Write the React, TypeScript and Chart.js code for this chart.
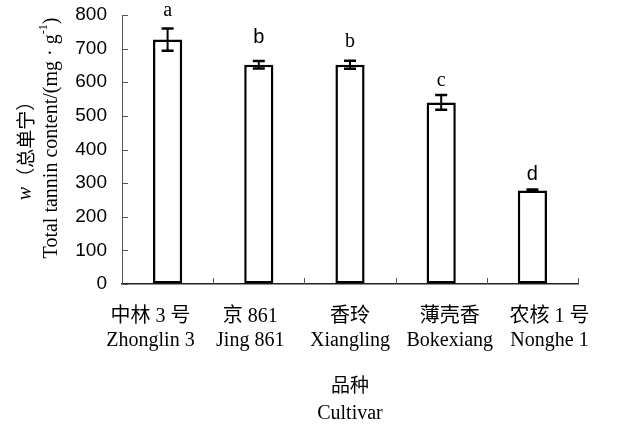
import React, { useEffect, useRef } from "react";
import { Chart, registerables } from "chart.js";

Chart.register(...registerables);

const cultivarsCN = ["中林 3 号", "京 861", "香玲", "薄壳香", "农核 1 号"];
const cultivarsEN = ["Zhonglin 3", "Jing 861", "Xiangling", "Bokexiang", "Nonghe 1"];
const tanninValues = [727, 652, 652, 540, 278];
const tanninErrors = [33, 11, 12, 22, 3];
const sigLetters = ["a", "b", "b", "c", "d"];
const yTicks = [0, 100, 200, 300, 400, 500, 600, 700, 800];

const SERIF = "'Liberation Serif', 'Times New Roman', 'Noto Sans CJK SC', serif";
const SANS = "'Liberation Sans', Arial, sans-serif";
const CJK = "'Noto Sans CJK SC', sans-serif";

const letterFonts = [SERIF, SANS, SERIF, SERIF, SANS];
const letterGaps = [12, 18, 14, 9, 10];

const annotPlugin = {
  id: "annot",
  afterDraw(chart: any) {
    const ctx = chart.ctx as CanvasRenderingContext2D;
    const ys = chart.scales.y;
    const xs = chart.scales.x;
    const area = chart.chartArea;
    ctx.save();
    // inward ticks
    ctx.strokeStyle = "#555";
    ctx.lineWidth = 1;
    yTicks.forEach((v) => {
      const py = Math.round(ys.getPixelForValue(v)) + 0.5;
      ctx.beginPath();
      ctx.moveTo(area.left, py);
      ctx.lineTo(area.left + 6, py);
      ctx.stroke();
    });
    for (let i = 1; i <= cultivarsEN.length; i++) {
      const px = Math.round(xs.getPixelForValue(i - 0.5)) + 0.5;
      ctx.beginPath();
      ctx.moveTo(px, area.bottom);
      ctx.lineTo(px, area.bottom - 6);
      ctx.stroke();
    }
    // error bars and letters
    const meta = chart.getDatasetMeta(0);
    meta.data.forEach((bar: any, i: number) => {
      const cx = bar.x;
      const top = ys.getPixelForValue(tanninValues[i] + tanninErrors[i]);
      const bot = ys.getPixelForValue(tanninValues[i] - tanninErrors[i]);
      ctx.strokeStyle = "#000";
      ctx.lineWidth = 2;
      ctx.beginPath();
      ctx.moveTo(cx, top);
      ctx.lineTo(cx, bot);
      ctx.stroke();
      ctx.lineWidth = 2.5;
      ctx.beginPath();
      ctx.moveTo(cx - 6, top);
      ctx.lineTo(cx + 6, top);
      ctx.moveTo(cx - 6, bot);
      ctx.lineTo(cx + 6, bot);
      ctx.stroke();
      ctx.fillStyle = "#000";
      ctx.font = `20px ${letterFonts[i]}`;
      ctx.textAlign = "center";
      ctx.textBaseline = "alphabetic";
      ctx.fillText(sigLetters[i], cx, top - letterGaps[i]);
    });
    // y title
    ctx.fillStyle = "#000";
    ctx.textBaseline = "middle";
    ctx.textAlign = "left";
    ctx.save();
    ctx.translate(26, 146);
    ctx.rotate(-Math.PI / 2);
    ctx.font = `italic 20px ${SERIF}`;
    const wW = ctx.measureText("w").width;
    ctx.font = `19px ${CJK}`;
    const cW = ctx.measureText("（总单宁）").width;
    let sx = -(wW + cW) / 2;
    ctx.font = `italic 20px ${SERIF}`;
    ctx.fillText("w", sx, 0);
    sx += wW;
    ctx.font = `19px ${CJK}`;
    ctx.fillText("（总单宁）", sx, 0);
    ctx.restore();
    ctx.save();
    ctx.translate(52, 138);
    ctx.rotate(-Math.PI / 2);
    const main = "Total tannin content/(mg · g";
    ctx.font = `20px ${SERIF}`;
    const mW = ctx.measureText(main).width;
    const pW = ctx.measureText(")").width;
    ctx.font = `12px ${SERIF}`;
    const sW = ctx.measureText("-1").width;
    let tx = -(mW + sW + pW) / 2;
    ctx.font = `20px ${SERIF}`;
    ctx.fillText(main, tx, 0);
    tx += mW;
    ctx.font = `12px ${SERIF}`;
    ctx.fillText("-1", tx, -8);
    tx += sW;
    ctx.font = `20px ${SERIF}`;
    ctx.fillText(")", tx, 0);
    ctx.restore();
    // x title
    const midX = (area.left + area.right) / 2;
    ctx.textAlign = "center";
    ctx.font = `19px ${CJK}`;
    ctx.fillText("品种", midX, 385);
    ctx.font = `20px ${SERIF}`;
    ctx.fillText("Cultivar", midX, 414);
    ctx.restore();
  },
};

export default function App() {
  const ref = useRef<HTMLCanvasElement | null>(null);
  useEffect(() => {
    if (!ref.current) return;
    const chart = new Chart(ref.current, {
      type: "bar",
      data: {
        labels: cultivarsEN,
        datasets: [
          {
            data: tanninValues,
            backgroundColor: "#fff",
            borderColor: "#000",
            borderWidth: 2.5,
            borderSkipped: false,
            barPercentage: 0.64,
            categoryPercentage: 0.5,
            xAxisID: "x",
          },
        ],
      },
      options: {
        responsive: true,
        maintainAspectRatio: false,
        animation: false,
        layout: { padding: { top: 15, right: 39, left: 0, bottom: 0 } },
        plugins: { legend: { display: false }, tooltip: { enabled: false } },
        scales: {
          x: {
            position: "bottom",
            grid: { display: false },
            border: { display: true, color: "#222", width: 1.5 },
            ticks: { display: false },
            afterFit: (s: any) => {
              s.height = 0;
            },
          },
          xl: {
            type: "linear",
            position: "bottom",
            offset: false,
            min: -0.2857,
            max: 4.2857,
            grid: { display: false, offset: false },
            border: { display: false },
            afterBuildTicks: (s: any) => {
              s.ticks = cultivarsEN.map((_, i) => ({ value: i }));
            },
            ticks: {
              color: "#000",
              font: { family: SERIF, size: 20 },
              padding: 13,
              maxRotation: 0,
              autoSkip: false,
              callback: (v: any) => {
                const i = Math.round(Number(v));
                return i >= 0 && i < cultivarsEN.length ? [cultivarsCN[i], cultivarsEN[i]] : null;
              },
            },
            afterFit: (s: any) => {
              s.height = 149;
            },
          },
          y: {
            min: 0,
            max: 800,
            grid: {
              display: true,
              drawOnChartArea: false,
              drawTicks: true,
              tickLength: 15,
              tickColor: "rgba(0,0,0,0)",
            },
            border: { display: true, color: "#555", width: 1 },
            ticks: {
              stepSize: 100,
              color: "#000",
              font: { family: SANS, size: 19 },
              padding: 0,
            },
            afterFit: (s: any) => {
              s.width = 122;
            },
          },
        },
      },
      plugins: [annotPlugin],
    });
    return () => chart.destroy();
  }, []);
  return (
    <div style={{ position: "fixed", left: 0, top: 0, width: 617, height: 433, background: "#fff" }}>
      <canvas ref={ref} />
    </div>
  );
}
